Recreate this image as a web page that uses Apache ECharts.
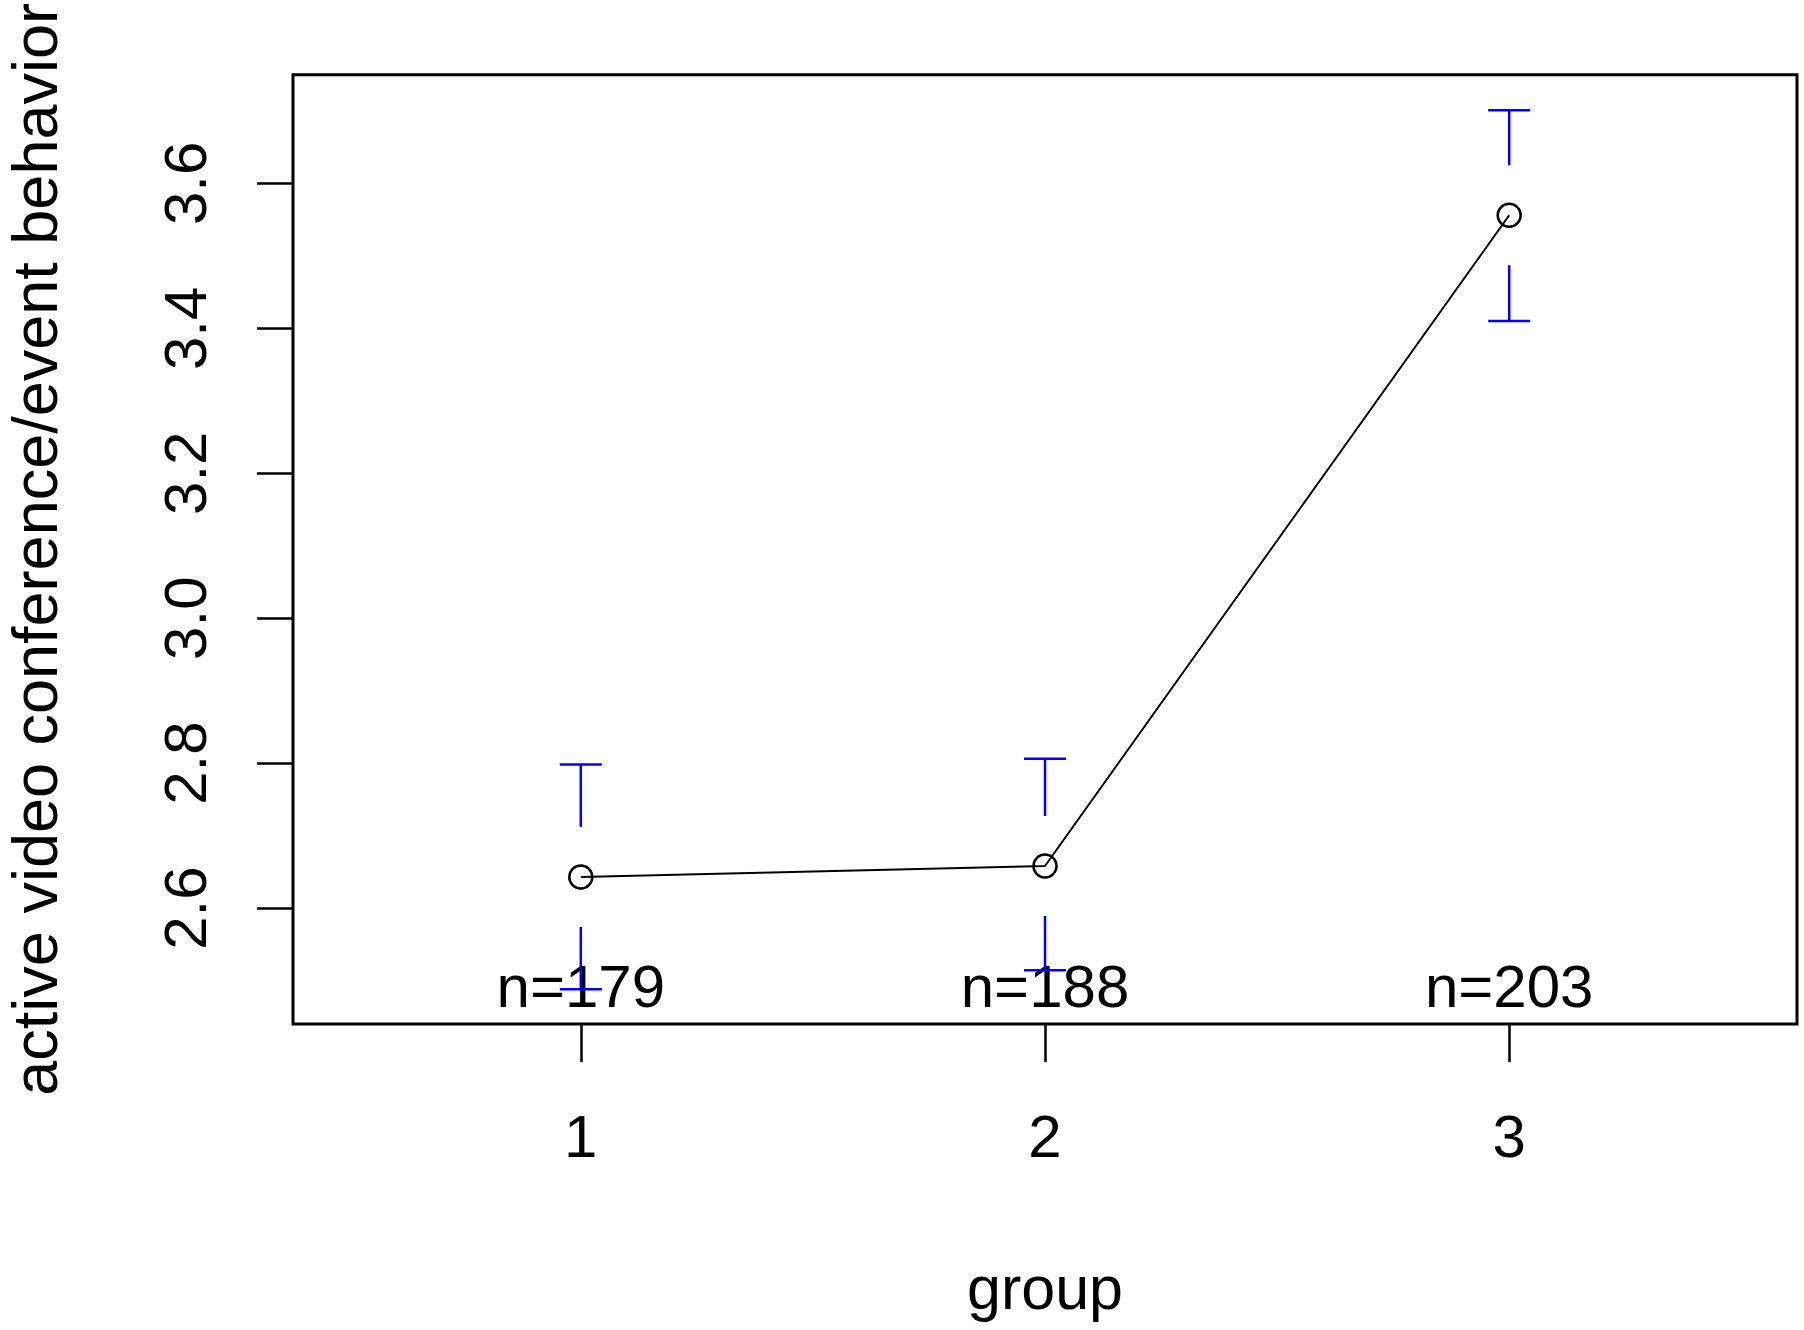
<!DOCTYPE html>
<html>
    <head>
        <meta charset="UTF-8">
        <title>plotmeans group</title>
        <style type="text/css">
            body,html{ margin: 0; padding: 0; width: 100vw; height: 100vh; overflow: hidden; background: #fff;}
            .chart-box{ width: 1804px; height: 1330px;}
        </style>
    </head>
    <body>
        <div class="chart-box" id="chart"></div>

        <script src="https://cdn.jsdelivr.net/npm/echarts@6.0.0/dist/echarts.min.js" type="text/javascript" charset="utf-8"></script>
        <script type="text/javascript">
            // 组别与均值 / 95% 置信区间
            var groups = [1, 2, 3];
            var means = [2.643, 2.658, 3.556];
            var ciLower = [2.488, 2.514, 3.410];
            var ciUpper = [2.798, 2.806, 3.701];
            var nCounts = [179, 188, 203];
            var yTicks = [2.6, 2.8, 3.0, 3.2, 3.4, 3.6];
            var xTicks = [1, 2, 3];

            var FONT = "'Liberation Sans', Arial, sans-serif";
            var nLabelY = 2.486;   // n= 标签的纵向位置

            var myChart = echarts.init(document.getElementById('chart'));

            var option = {
                animation: false,
                backgroundColor: '#fff',
                grid: {
                    left: 289, top: 74, right: 7, bottom: 306,
                    show: true,
                    borderColor: '#000',
                    borderWidth: 3,
                    backgroundColor: 'transparent'
                },
                xAxis: {
                    type: 'value',
                    min: 0.38,
                    max: 3.62,
                    name: 'group',
                    nameLocation: 'middle',
                    nameGap: 238,
                    nameTextStyle: { fontFamily: FONT, fontSize: 61, color: '#000' },
                    axisLine: { show: false },
                    splitLine: { show: false },
                    axisTick: {
                        show: true, inside: false, length: 38,
                        customValues: xTicks,
                        lineStyle: { color: '#000', width: 2.5 }
                    },
                    axisLabel: {
                        customValues: xTicks,
                        margin: 86,
                        fontFamily: FONT, fontSize: 60, color: '#000'
                    }
                },
                yAxis: {
                    type: 'value',
                    min: 2.44,
                    max: 3.75,
                    name: 'active video conference/event behavior',
                    nameLocation: 'middle',
                    nameRotate: 90,
                    nameGap: 222,
                    nameTextStyle: { fontFamily: FONT, fontSize: 63, color: '#000' },
                    axisLine: { show: false },
                    splitLine: { show: false },
                    axisTick: {
                        show: true, inside: false, length: 36,
                        customValues: yTicks,
                        lineStyle: { color: '#000', width: 2.5 }
                    },
                    axisLabel: {
                        customValues: yTicks,
                        rotate: 90,
                        margin: 74,
                        fontFamily: FONT, fontSize: 60, color: '#000',
                        formatter: function (v) { return v.toFixed(1); }
                    }
                },
                series: [
                    {
                        // n= 标签
                        type: 'custom',
                        z: 1,
                        data: groups.map(function (g, i) { return [g, nLabelY, nCounts[i]]; }),
                        renderItem: function (params, api) {
                            var p = api.coord([api.value(0), api.value(1)]);
                            return {
                                type: 'text',
                                x: p[0], y: p[1],
                                style: {
                                    text: 'n=' + api.value(2),
                                    fontFamily: FONT, fontSize: 60, fill: '#000',
                                    align: 'center', verticalAlign: 'middle'
                                }
                            };
                        }
                    },
                    {
                        // 置信区间（蓝色）
                        type: 'custom',
                        z: 2,
                        data: groups.map(function (g, i) { return [g, means[i], ciLower[i], ciUpper[i]]; }),
                        renderItem: function (params, api) {
                            var x = api.value(0);
                            var pm = api.coord([x, api.value(1)]);
                            var plo = api.coord([x, api.value(2)]);
                            var phi = api.coord([x, api.value(3)]);
                            var gap = 50, cap = 21;
                            var st = { stroke: '#0000ff', lineWidth: 2.5 };
                            return {
                                type: 'group',
                                children: [
                                    { type: 'line', shape: { x1: pm[0], y1: phi[1], x2: pm[0], y2: pm[1] - gap }, style: st },
                                    { type: 'line', shape: { x1: pm[0] - cap, y1: phi[1], x2: pm[0] + cap, y2: phi[1] }, style: st },
                                    { type: 'line', shape: { x1: pm[0], y1: pm[1] + gap, x2: pm[0], y2: plo[1] }, style: st },
                                    { type: 'line', shape: { x1: pm[0] - cap, y1: plo[1], x2: pm[0] + cap, y2: plo[1] }, style: st }
                                ]
                            };
                        }
                    },
                    {
                        // 均值折线
                        type: 'line',
                        z: 3,
                        data: groups.map(function (g, i) { return [g, means[i]]; }),
                        symbol: 'circle',
                        symbolSize: 23,
                        itemStyle: { color: 'rgba(0,0,0,0)', borderColor: '#000', borderWidth: 2.5 },
                        lineStyle: { color: '#000', width: 2 },
                        emphasis: { disabled: true }
                    }
                ]
            };

            myChart.setOption(option);
            window.addEventListener('resize', function () {
                myChart.resize();
            });
        </script>
    </body>
</html>
